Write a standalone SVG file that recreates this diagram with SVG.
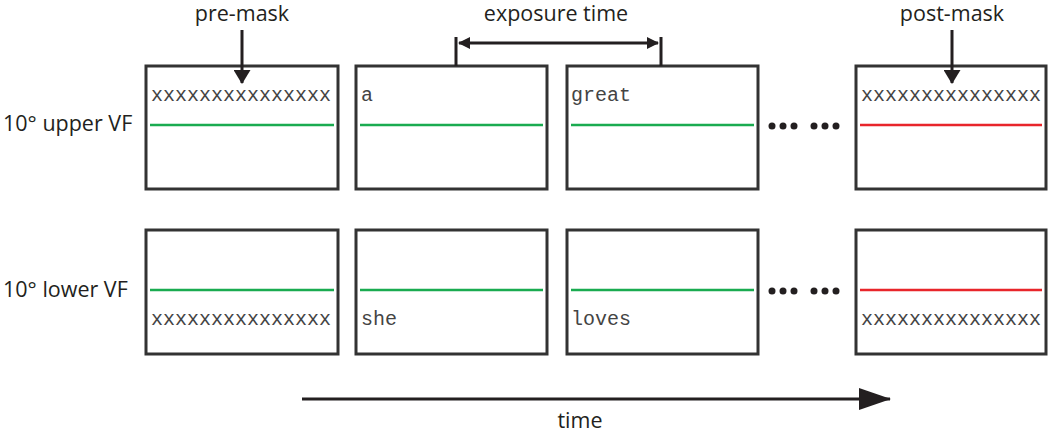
<svg xmlns="http://www.w3.org/2000/svg" width="1050" height="432" viewBox="0 0 1050 432">
<style>
.box{fill:#fff;stroke:#333;stroke-width:3}
.g{stroke:#1aab50;stroke-width:2.5}
.r{stroke:#e8252b;stroke-width:2.5}
.mono{font-family:"Liberation Mono","Courier New",monospace;font-size:20px;fill:#444}
.lbl{font-family:"Open Sans","Noto Sans",sans-serif;font-size:21.5px;fill:#231f20}
.ln{stroke:#231f20;stroke-width:3;fill:none}
.dot{fill:#231f20}
</style>
<defs>
<marker id="ah" markerWidth="12" markerHeight="12" viewBox="0 0 12 12" refX="11" refY="6" orient="auto-start-reverse" markerUnits="userSpaceOnUse">
<path d="M0,0 L12,6 L0,12 Z" fill="#231f20"/>
</marker>
<marker id="ah2" markerWidth="14" markerHeight="17" viewBox="0 0 14 17" refX="13" refY="8.5" orient="auto" markerUnits="userSpaceOnUse">
<path d="M0,0 L14,8.5 L0,17 Z" fill="#231f20"/>
</marker>
<marker id="big" markerWidth="32" markerHeight="22" viewBox="0 0 32 22" refX="31" refY="11" orient="auto" markerUnits="userSpaceOnUse">
<path d="M0,0 L32,11 L0,22 Z" fill="#231f20"/>
</marker>
</defs>

<g id="row-labels">
<text class="lbl" x="3" y="131">10° upper VF</text>
<text class="lbl" x="3" y="297">10° lower VF</text>
</g>

<g id="u1"><rect class="box" x="146" y="66" width="192" height="123"/><line class="g" x1="150" y1="125" x2="334" y2="125"/><text class="mono" x="151" y="101">xxxxxxxxxxxxxxx</text></g>
<g id="u2"><rect class="box" x="356" y="66" width="191" height="123"/><line class="g" x1="360" y1="125" x2="543" y2="125"/><text class="mono" x="361" y="101">a</text></g>
<g id="u3"><rect class="box" x="567" y="66" width="191" height="123"/><line class="g" x1="571" y1="125" x2="754" y2="125"/><text class="mono" x="571" y="101">great</text></g>
<g id="u4"><rect class="box" x="856" y="66" width="190" height="123"/><line class="r" x1="860" y1="125" x2="1042" y2="125"/><text class="mono" x="861" y="101">xxxxxxxxxxxxxxx</text></g>

<g id="l1"><rect class="box" x="146" y="230" width="192" height="124"/><line class="g" x1="150" y1="290" x2="334" y2="290"/><text class="mono" x="151" y="325">xxxxxxxxxxxxxxx</text></g>
<g id="l2"><rect class="box" x="356" y="230" width="191" height="124"/><line class="g" x1="360" y1="290" x2="543" y2="290"/><text class="mono" x="361" y="325">she</text></g>
<g id="l3"><rect class="box" x="567" y="230" width="191" height="124"/><line class="g" x1="571" y1="290" x2="754" y2="290"/><text class="mono" x="571" y="325">loves</text></g>
<g id="l4"><rect class="box" x="856" y="230" width="190" height="124"/><line class="r" x1="860" y1="290" x2="1042" y2="290"/><text class="mono" x="861" y="325">xxxxxxxxxxxxxxx</text></g>

<g id="dots">
<circle class="dot" cx="772" cy="126" r="3.5"/><circle class="dot" cx="783" cy="126" r="3.5"/><circle class="dot" cx="794" cy="126" r="3.5"/>
<circle class="dot" cx="814" cy="126" r="3.5"/><circle class="dot" cx="825" cy="126" r="3.5"/><circle class="dot" cx="836" cy="126" r="3.5"/>
<circle class="dot" cx="772" cy="291" r="3.5"/><circle class="dot" cx="783" cy="291" r="3.5"/><circle class="dot" cx="794" cy="291" r="3.5"/>
<circle class="dot" cx="814" cy="291" r="3.5"/><circle class="dot" cx="825" cy="291" r="3.5"/><circle class="dot" cx="836" cy="291" r="3.5"/>
</g>

<g id="annotations">
<text class="lbl" x="242" y="21" text-anchor="middle">pre-mask</text>
<text class="lbl" x="556" y="21" text-anchor="middle">exposure time</text>
<text class="lbl" x="952" y="21" text-anchor="middle">post-mask</text>
<text class="lbl" x="580" y="428" text-anchor="middle">time</text>
</g>

<g id="connectors">
<line class="ln" x1="242" y1="30" x2="242" y2="83" marker-end="url(#ah2)"/>
<line class="ln" x1="952" y1="30" x2="952" y2="83" marker-end="url(#ah2)"/>
<line class="ln" x1="456" y1="37" x2="456" y2="66"/>
<line class="ln" x1="661" y1="37" x2="661" y2="66"/>
<line class="ln" stroke-width="2" x1="459" y1="43" x2="658" y2="43" marker-start="url(#ah)" marker-end="url(#ah)"/>
<line class="ln" stroke-width="3.5" x1="302" y1="399" x2="890" y2="399" marker-end="url(#big)"/>
</g>
</svg>
